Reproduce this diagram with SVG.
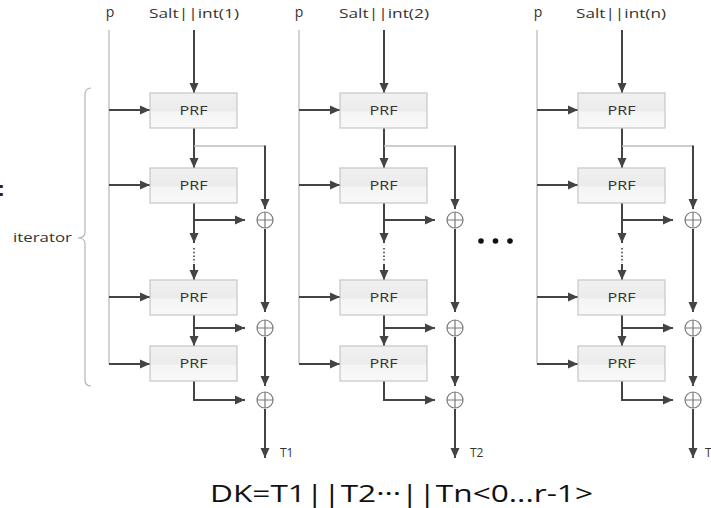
<svg xmlns="http://www.w3.org/2000/svg" width="711" height="508" viewBox="0 0 711 508">
<defs>
<linearGradient id="boxg" x1="0" y1="0" x2="0" y2="1">
<stop offset="0" stop-color="#f1f1f1"/>
<stop offset="0.5" stop-color="#ebebeb"/>
<stop offset="0.55" stop-color="#f5f5f5"/>
<stop offset="1" stop-color="#f8f8f8"/>
</linearGradient>
<marker id="ah" markerUnits="userSpaceOnUse" markerWidth="11" markerHeight="10" refX="10" refY="5" orient="auto">
<path d="M0,0.5 L10,5 L0,9.5 z" fill="#444"/>
</marker>
</defs>
<style>
text{font-family:"Open Sans","Noto Sans","Liberation Sans",sans-serif;fill:#333}
.lbl{font-size:13px;text-anchor:middle}
.p{font-size:14px;text-anchor:middle}
.prf rect{fill:url(#boxg);stroke:#c6c6c6;stroke-width:1.2}
.prf text{font-size:13.5px;text-anchor:middle}
.arr{stroke:#444;stroke-width:2;fill:none;marker-end:url(#ah)}
.thin{stroke:#bdbdbd;stroke-width:1.3;fill:none}
.dot{stroke:#444;stroke-width:1.6;stroke-dasharray:1.5 2.2;fill:none}
.xor circle{fill:#fff;stroke:#7a7a7a;stroke-width:1.2}
.xor path{stroke:#7a7a7a;stroke-width:1.2}
.t{font-size:12px}
</style>
<rect width="711" height="508" fill="#fff"/>

<!-- labels -->
<g id="labels">
<text x="-2.5" y="196" style="font-family:'Liberation Sans',sans-serif;font-size:22px;font-weight:bold;fill:#222">:</text>
<text x="110" y="17" class="p">p</text>
<text x="194" y="18" class="lbl" textLength="90" lengthAdjust="spacingAndGlyphs">Salt||int(1)</text>
<text x="299" y="17" class="p">p</text>
<text x="384" y="18" class="lbl" textLength="90" lengthAdjust="spacingAndGlyphs">Salt||int(2)</text>
<text x="538" y="17" class="p">p</text>
<text x="621" y="18" class="lbl" textLength="90" lengthAdjust="spacingAndGlyphs">Salt||int(n)</text>
<text x="13" y="242" style="font-size:12.5px" textLength="59" lengthAdjust="spacingAndGlyphs">iterator</text>
<text x="280" y="457" class="t">T1</text>
<text x="470" y="457" class="t">T2</text>
<text x="705" y="457" class="t">Tn</text>
<text x="210" y="502" style="font-size:24px;fill:#111" textLength="383" lengthAdjust="spacingAndGlyphs">DK=T1||T2···||Tn&lt;0...r-1&gt;</text>
</g>

<!-- brace -->
<g id="brace">
<path d="M91,88 Q85,88 85,95 L85,232 Q85,238 78,238 Q85,238 85,244 L85,380 Q85,386 91,386" fill="none" stroke="#b5b5b5" stroke-width="1.2"/>
</g>

<!-- ellipsis -->
<g id="ellipsis" fill="#111">
<circle cx="481" cy="241" r="2.8"/>
<circle cx="495.5" cy="241" r="2.8"/>
<circle cx="510" cy="241" r="2.8"/>
</g>

<!-- connectors -->
<g id="connectors">
<g id="conn-col1">
<line class="thin" x1="109" y1="30" x2="109" y2="364"/>
<line class="arr" x1="194" y1="30" x2="194" y2="93"/>
<line class="arr" x1="109" y1="110" x2="150" y2="110"/>
<line class="arr" x1="109" y1="185" x2="150" y2="185"/>
<line class="arr" x1="109" y1="297" x2="150" y2="297"/>
<line class="arr" x1="109" y1="364" x2="150" y2="364"/>
<line class="arr" x1="194" y1="128" x2="194" y2="168"/>
<polyline class="thin" points="194,146 265,146"/>
<line class="arr" x1="265" y1="145.5" x2="265" y2="209"/>
<line class="arr" x1="194" y1="203" x2="194" y2="243"/>
<line class="arr" x1="194" y1="220" x2="245" y2="220"/>
<line class="dot" x1="194" y1="248" x2="194" y2="263"/>
<line class="arr" x1="194" y1="264" x2="194" y2="280"/>
<line class="arr" x1="265" y1="229" x2="265" y2="312"/>
<line class="arr" x1="194" y1="315" x2="194" y2="346"/>
<line class="arr" x1="194" y1="328" x2="245" y2="328"/>
<line class="arr" x1="265" y1="337" x2="265" y2="386"/>
<polyline class="arr" points="194,381 194,400 245,400"/>
<line class="arr" x1="265" y1="409" x2="265" y2="458"/>
</g>
<g id="conn-col2" transform="translate(190,0)">
<line class="thin" x1="109" y1="30" x2="109" y2="364"/>
<line class="arr" x1="194" y1="30" x2="194" y2="93"/>
<line class="arr" x1="109" y1="110" x2="150" y2="110"/>
<line class="arr" x1="109" y1="185" x2="150" y2="185"/>
<line class="arr" x1="109" y1="297" x2="150" y2="297"/>
<line class="arr" x1="109" y1="364" x2="150" y2="364"/>
<line class="arr" x1="194" y1="128" x2="194" y2="168"/>
<polyline class="thin" points="194,146 265,146"/>
<line class="arr" x1="265" y1="145.5" x2="265" y2="209"/>
<line class="arr" x1="194" y1="203" x2="194" y2="243"/>
<line class="arr" x1="194" y1="220" x2="245" y2="220"/>
<line class="dot" x1="194" y1="248" x2="194" y2="263"/>
<line class="arr" x1="194" y1="264" x2="194" y2="280"/>
<line class="arr" x1="265" y1="229" x2="265" y2="312"/>
<line class="arr" x1="194" y1="315" x2="194" y2="346"/>
<line class="arr" x1="194" y1="328" x2="245" y2="328"/>
<line class="arr" x1="265" y1="337" x2="265" y2="386"/>
<polyline class="arr" points="194,381 194,400 245,400"/>
<line class="arr" x1="265" y1="409" x2="265" y2="458"/>
</g>
<g id="conn-col3" transform="translate(428,0)">
<line class="thin" x1="109" y1="30" x2="109" y2="364"/>
<line class="arr" x1="194" y1="30" x2="194" y2="93"/>
<line class="arr" x1="109" y1="110" x2="150" y2="110"/>
<line class="arr" x1="109" y1="185" x2="150" y2="185"/>
<line class="arr" x1="109" y1="297" x2="150" y2="297"/>
<line class="arr" x1="109" y1="364" x2="150" y2="364"/>
<line class="arr" x1="194" y1="128" x2="194" y2="168"/>
<polyline class="thin" points="194,146 265,146"/>
<line class="arr" x1="265" y1="145.5" x2="265" y2="209"/>
<line class="arr" x1="194" y1="203" x2="194" y2="243"/>
<line class="arr" x1="194" y1="220" x2="245" y2="220"/>
<line class="dot" x1="194" y1="248" x2="194" y2="263"/>
<line class="arr" x1="194" y1="264" x2="194" y2="280"/>
<line class="arr" x1="265" y1="229" x2="265" y2="312"/>
<line class="arr" x1="194" y1="315" x2="194" y2="346"/>
<line class="arr" x1="194" y1="328" x2="245" y2="328"/>
<line class="arr" x1="265" y1="337" x2="265" y2="386"/>
<polyline class="arr" points="194,381 194,400 245,400"/>
<line class="arr" x1="265" y1="409" x2="265" y2="458"/>
</g>
</g>

<!-- column 1 nodes -->
<g id="prf-1-1" class="prf"><rect x="150" y="93" width="87" height="35"/><text x="193.5" y="115" textLength="28" lengthAdjust="spacingAndGlyphs">PRF</text></g>
<g id="prf-1-2" class="prf"><rect x="150" y="168" width="87" height="35"/><text x="193.5" y="190" textLength="28" lengthAdjust="spacingAndGlyphs">PRF</text></g>
<g id="prf-1-3" class="prf"><rect x="150" y="280" width="87" height="35"/><text x="193.5" y="302" textLength="28" lengthAdjust="spacingAndGlyphs">PRF</text></g>
<g id="prf-1-4" class="prf"><rect x="150" y="346" width="87" height="35"/><text x="193.5" y="368" textLength="28" lengthAdjust="spacingAndGlyphs">PRF</text></g>
<g id="xor-1-1" class="xor"><circle cx="265" cy="220" r="8"/><path d="M257,220 H273 M265,212 V228"/></g>
<g id="xor-1-2" class="xor"><circle cx="265" cy="328" r="8"/><path d="M257,328 H273 M265,320 V336"/></g>
<g id="xor-1-3" class="xor"><circle cx="265" cy="400" r="8"/><path d="M257,400 H273 M265,392 V408"/></g>

<!-- column 2 nodes -->
<g id="prf-2-1" class="prf"><rect x="340" y="93" width="87" height="35"/><text x="383.5" y="115" textLength="28" lengthAdjust="spacingAndGlyphs">PRF</text></g>
<g id="prf-2-2" class="prf"><rect x="340" y="168" width="87" height="35"/><text x="383.5" y="190" textLength="28" lengthAdjust="spacingAndGlyphs">PRF</text></g>
<g id="prf-2-3" class="prf"><rect x="340" y="280" width="87" height="35"/><text x="383.5" y="302" textLength="28" lengthAdjust="spacingAndGlyphs">PRF</text></g>
<g id="prf-2-4" class="prf"><rect x="340" y="346" width="87" height="35"/><text x="383.5" y="368" textLength="28" lengthAdjust="spacingAndGlyphs">PRF</text></g>
<g id="xor-2-1" class="xor"><circle cx="455" cy="220" r="8"/><path d="M447,220 H463 M455,212 V228"/></g>
<g id="xor-2-2" class="xor"><circle cx="455" cy="328" r="8"/><path d="M447,328 H463 M455,320 V336"/></g>
<g id="xor-2-3" class="xor"><circle cx="455" cy="400" r="8"/><path d="M447,400 H463 M455,392 V408"/></g>

<!-- column 3 nodes -->
<g id="prf-3-1" class="prf"><rect x="578" y="93" width="87" height="35"/><text x="621.5" y="115" textLength="28" lengthAdjust="spacingAndGlyphs">PRF</text></g>
<g id="prf-3-2" class="prf"><rect x="578" y="168" width="87" height="35"/><text x="621.5" y="190" textLength="28" lengthAdjust="spacingAndGlyphs">PRF</text></g>
<g id="prf-3-3" class="prf"><rect x="578" y="280" width="87" height="35"/><text x="621.5" y="302" textLength="28" lengthAdjust="spacingAndGlyphs">PRF</text></g>
<g id="prf-3-4" class="prf"><rect x="578" y="346" width="87" height="35"/><text x="621.5" y="368" textLength="28" lengthAdjust="spacingAndGlyphs">PRF</text></g>
<g id="xor-3-1" class="xor"><circle cx="693" cy="220" r="8"/><path d="M685,220 H701 M693,212 V228"/></g>
<g id="xor-3-2" class="xor"><circle cx="693" cy="328" r="8"/><path d="M685,328 H701 M693,320 V336"/></g>
<g id="xor-3-3" class="xor"><circle cx="693" cy="400" r="8"/><path d="M685,400 H701 M693,392 V408"/></g>
</svg>
